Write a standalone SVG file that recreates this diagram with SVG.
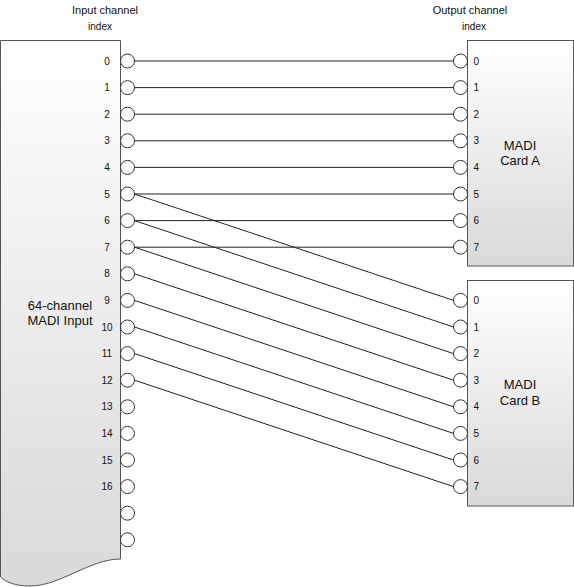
<svg xmlns="http://www.w3.org/2000/svg" width="574" height="587" viewBox="0 0 574 587">
<defs>
<linearGradient id="g" x1="0" y1="0" x2="0" y2="1">
<stop offset="0" stop-color="#ffffff"/>
<stop offset="1" stop-color="#d9d9d9"/>
</linearGradient>
<style>
.box{fill:url(#g);stroke:#555;stroke-width:1}
.port{fill:#fff;stroke:#333;stroke-width:1}
.wire{stroke:#222;stroke-width:1;fill:none}
text{font-family:"Liberation Sans",Arial,sans-serif;fill:#111}
.hd{font-size:11px;text-anchor:middle}
.ix{font-size:10px;text-anchor:middle}
.ln{font-size:10px;text-anchor:middle}
.rn{font-size:10px;text-anchor:start}
.big{font-size:13px;text-anchor:middle}
</style>
</defs>
<rect width="574" height="587" fill="#fff"/>
<g id="headers">
<text class="hd" x="105" y="14">Input channel</text>
<text class="ix" x="100" y="30">index</text>
<text class="hd" x="470" y="14">Output channel</text>
<text class="ix" x="474" y="30">index</text>
</g>
<g id="madi-input">
<path class="box" d="M0.5,40.5 H120.5 V559 C90,559 60,586 30,586 C15,586 6,582 0.5,577 Z"/>
<text class="big" x="60" y="310">64-channel</text>
<text class="big" x="60" y="325">MADI Input</text>
<g class="ports">
<circle class="port" cx="127.5" cy="61" r="7"/>
<circle class="port" cx="127.5" cy="87.6" r="7"/>
<circle class="port" cx="127.5" cy="114.2" r="7"/>
<circle class="port" cx="127.5" cy="140.8" r="7"/>
<circle class="port" cx="127.5" cy="167.4" r="7"/>
<circle class="port" cx="127.5" cy="194" r="7"/>
<circle class="port" cx="127.5" cy="220.6" r="7"/>
<circle class="port" cx="127.5" cy="247.2" r="7"/>
<circle class="port" cx="127.5" cy="273.8" r="7"/>
<circle class="port" cx="127.5" cy="300.4" r="7"/>
<circle class="port" cx="127.5" cy="327" r="7"/>
<circle class="port" cx="127.5" cy="353.6" r="7"/>
<circle class="port" cx="127.5" cy="380.2" r="7"/>
<circle class="port" cx="127.5" cy="406.8" r="7"/>
<circle class="port" cx="127.5" cy="433.4" r="7"/>
<circle class="port" cx="127.5" cy="460" r="7"/>
<circle class="port" cx="127.5" cy="486.6" r="7"/>
<circle class="port" cx="127.5" cy="513.2" r="7"/>
<circle class="port" cx="127.5" cy="539.8" r="7"/>
</g>
<g class="labels">
<text class="ln" x="107" y="64.5">0</text>
<text class="ln" x="107" y="91.1">1</text>
<text class="ln" x="107" y="117.7">2</text>
<text class="ln" x="107" y="144.3">3</text>
<text class="ln" x="107" y="170.9">4</text>
<text class="ln" x="107" y="197.5">5</text>
<text class="ln" x="107" y="224.1">6</text>
<text class="ln" x="107" y="250.7">7</text>
<text class="ln" x="107" y="277.3">8</text>
<text class="ln" x="107" y="303.9">9</text>
<text class="ln" x="107" y="330.5">10</text>
<text class="ln" x="107" y="357.1">11</text>
<text class="ln" x="107" y="383.7">12</text>
<text class="ln" x="107" y="410.3">13</text>
<text class="ln" x="107" y="436.9">14</text>
<text class="ln" x="107" y="463.5">15</text>
<text class="ln" x="107" y="490.1">16</text>
</g>
</g>
<g id="card-a">
<rect class="box" x="467.5" y="40.5" width="106" height="225.5"/>
<text class="big" x="520" y="150">MADI</text>
<text class="big" x="520" y="165">Card A</text>
<circle class="port" cx="460.5" cy="61" r="7"/>
<circle class="port" cx="460.5" cy="87.6" r="7"/>
<circle class="port" cx="460.5" cy="114.2" r="7"/>
<circle class="port" cx="460.5" cy="140.8" r="7"/>
<circle class="port" cx="460.5" cy="167.4" r="7"/>
<circle class="port" cx="460.5" cy="194" r="7"/>
<circle class="port" cx="460.5" cy="220.6" r="7"/>
<circle class="port" cx="460.5" cy="247.2" r="7"/>
<text class="rn" x="473.5" y="64.5">0</text>
<text class="rn" x="473.5" y="91.1">1</text>
<text class="rn" x="473.5" y="117.7">2</text>
<text class="rn" x="473.5" y="144.3">3</text>
<text class="rn" x="473.5" y="170.9">4</text>
<text class="rn" x="473.5" y="197.5">5</text>
<text class="rn" x="473.5" y="224.1">6</text>
<text class="rn" x="473.5" y="250.7">7</text>
</g>
<g id="card-b">
<rect class="box" x="467.5" y="280.5" width="106" height="225.5"/>
<text class="big" x="520" y="389">MADI</text>
<text class="big" x="520" y="405">Card B</text>
<circle class="port" cx="460.5" cy="300.4" r="7"/>
<circle class="port" cx="460.5" cy="327" r="7"/>
<circle class="port" cx="460.5" cy="353.6" r="7"/>
<circle class="port" cx="460.5" cy="380.2" r="7"/>
<circle class="port" cx="460.5" cy="406.8" r="7"/>
<circle class="port" cx="460.5" cy="433.4" r="7"/>
<circle class="port" cx="460.5" cy="460" r="7"/>
<circle class="port" cx="460.5" cy="486.6" r="7"/>
<text class="rn" x="473.5" y="303.9">0</text>
<text class="rn" x="473.5" y="330.5">1</text>
<text class="rn" x="473.5" y="357.1">2</text>
<text class="rn" x="473.5" y="383.7">3</text>
<text class="rn" x="473.5" y="410.3">4</text>
<text class="rn" x="473.5" y="436.9">5</text>
<text class="rn" x="473.5" y="463.5">6</text>
<text class="rn" x="473.5" y="490.1">7</text>
</g>
<g id="connectors" class="wire">
<line class="wire" x1="134.5" y1="61" x2="453.5" y2="61"/>
<line class="wire" x1="134.5" y1="87.6" x2="453.5" y2="87.6"/>
<line class="wire" x1="134.5" y1="114.2" x2="453.5" y2="114.2"/>
<line class="wire" x1="134.5" y1="140.8" x2="453.5" y2="140.8"/>
<line class="wire" x1="134.5" y1="167.4" x2="453.5" y2="167.4"/>
<line class="wire" x1="134.5" y1="194" x2="453.5" y2="194"/>
<line class="wire" x1="134.5" y1="220.6" x2="453.5" y2="220.6"/>
<line class="wire" x1="134.5" y1="247.2" x2="453.5" y2="247.2"/>
<line class="wire" x1="134.5" y1="194" x2="453.5" y2="300.4"/>
<line class="wire" x1="134.5" y1="220.6" x2="453.5" y2="327"/>
<line class="wire" x1="134.5" y1="247.2" x2="453.5" y2="353.6"/>
<line class="wire" x1="134.5" y1="273.8" x2="453.5" y2="380.2"/>
<line class="wire" x1="134.5" y1="300.4" x2="453.5" y2="406.8"/>
<line class="wire" x1="134.5" y1="327" x2="453.5" y2="433.4"/>
<line class="wire" x1="134.5" y1="353.6" x2="453.5" y2="460"/>
<line class="wire" x1="134.5" y1="380.2" x2="453.5" y2="486.6"/>
</g>
</svg>
